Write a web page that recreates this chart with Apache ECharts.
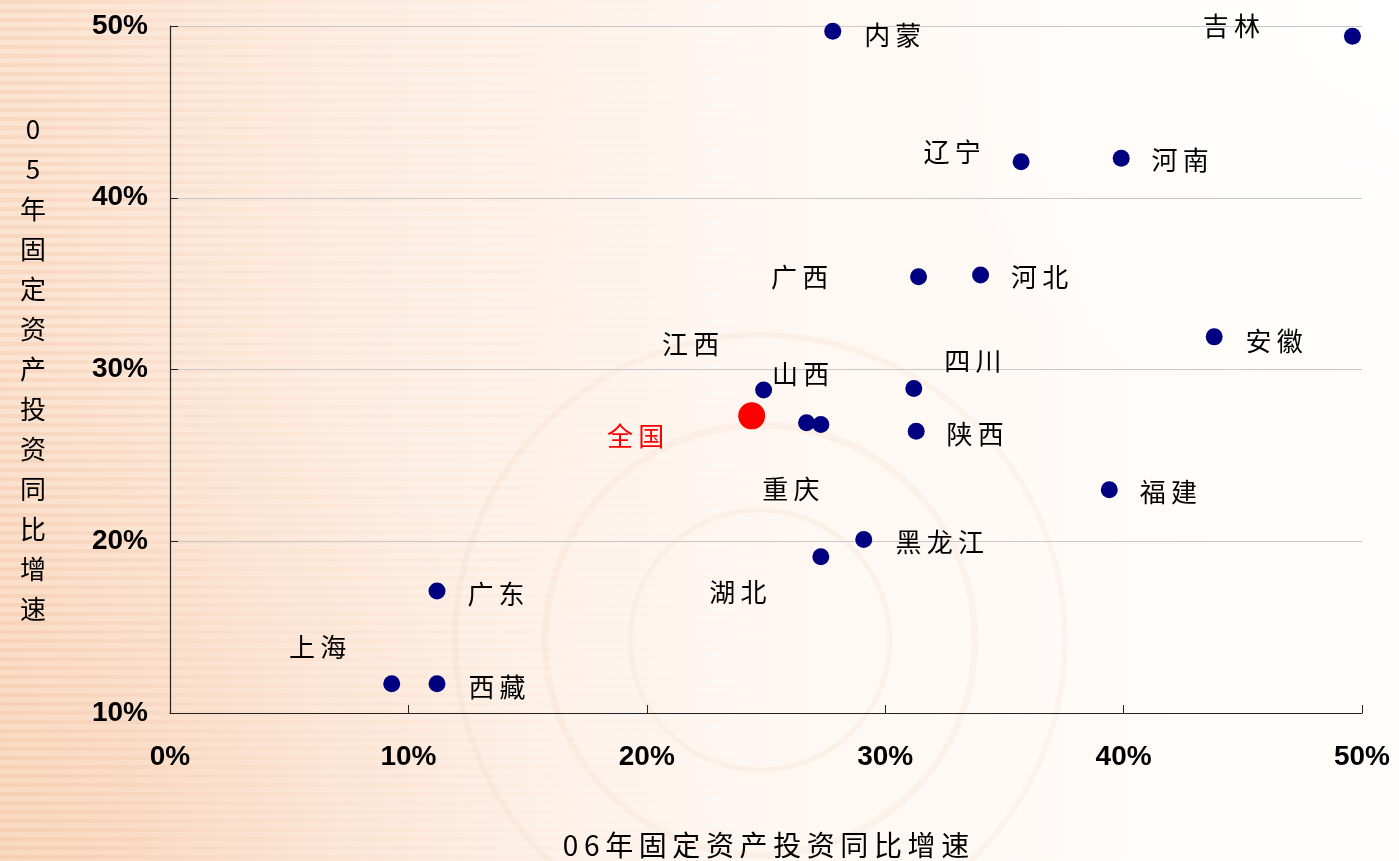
<!DOCTYPE html>
<html>
<head>
<meta charset="utf-8">
<script src="https://cdn.jsdelivr.net/npm/echarts@6/dist/echarts.min.js"></script>
<style>
  html, body { margin: 0; padding: 0; background: #fff; }
  #chart { width: 1399px; height: 861px; }
</style>
</head>
<body>
<div id="chart"></div>
<script>
// Fixed-asset investment growth by province: 2006 (x) vs 2005 (y), in percent
const provinces = ['内蒙', '吉林', '辽宁', '河南', '广西', '河北', '安徽', '山西', '四川',
                   '江西', '重庆', '陕西', '福建', '黑龙江', '湖北', '广东', '上海', '西藏'];
const growth2006 = [27.8, 49.6, 35.7, 39.9, 31.4, 34.0, 43.8, 24.9, 31.2,
                    26.7, 27.3, 31.3, 39.4, 29.1, 27.3, 11.2, 9.3, 11.2];
const growth2005 = [49.7, 49.4, 42.1, 42.3, 35.4, 35.5, 31.9, 28.8, 28.9,
                    26.9, 26.8, 26.4, 23.0, 20.1, 19.1, 17.1, 11.7, 11.7];

const nationalName = '全国';
const national2006 = 24.4;
const national2005 = 27.3;

const xTicks = [0, 10, 20, 30, 40, 50];
const yTicks = [10, 20, 30, 40, 50];

const xTitle = '06年固定资产投资同比增速';
const yTitle = '05年固定资产投资同比增速';

// label placement around each marker (pixel offsets from the marker centre)
const labelOffsets = {
  '内蒙': [60, 4], '吉林': [-121, -10], '辽宁': [-69, -10], '河南': [59, 2],
  '广西': [-119, 0], '河北': [59, 2], '安徽': [60, 4], '山西': [37, -16],
  '四川': [59, -27], '江西': [-116, -79], '重庆': [-30, 65], '陕西': [59, 3],
  '福建': [59, 2], '黑龙江': [76, 3], '湖北': [-83, 35], '广东': [59, 3],
  '上海': [-74, -37], '西藏': [60, 3], '全国': [-116, 20]
};

const spaced = s => s.split('').join('\u2009');
const CJK = '"Noto Sans CJK SC", "Noto Sans", sans-serif';

// decorative backdrop: warm wash with horizontal stripes and faint rings
const W = 1399, H = 861;
const backdrop = [{
  type: 'rect', z: -10, silent: true,
  shape: { x: 0, y: 0, width: W, height: H },
  style: {
    fill: new echarts.graphic.LinearGradient(0, 0, 1, 0, [
      { offset: 0, color: '#fbe3d1' },
      { offset: 0.25, color: '#fdeee3' },
      { offset: 0.5, color: '#fef6f0' },
      { offset: 0.8, color: '#fffbf8' },
      { offset: 1, color: '#fffdfb' }
    ])
  }
}, {
  type: 'rect', z: -9, silent: true,
  shape: { x: 0, y: 0, width: W, height: H },
  style: {
    fill: new echarts.graphic.RadialGradient(0.05, 1.0, 0.6, [
      { offset: 0, color: 'rgba(245,195,160,0.35)' },
      { offset: 1, color: 'rgba(245,195,160,0)' }
    ])
  }
}, {
  type: 'rect', z: -9, silent: true,
  shape: { x: 0, y: 0, width: W, height: H },
  style: {
    fill: new echarts.graphic.RadialGradient(1.0, 0.0, 0.6, [
      { offset: 0, color: 'rgba(255,255,255,0.95)' },
      { offset: 1, color: 'rgba(255,255,255,0)' }
    ])
  }
}];
for (let y = 0; y < H; y += 9) {
  backdrop.push({
    type: 'rect', z: -8, silent: true,
    shape: { x: 0, y: y, width: 800, height: 4 },
    style: {
      fill: new echarts.graphic.LinearGradient(0, 0, 1, 0, [
        { offset: 0, color: 'rgba(240,170,125,0.22)' },
        { offset: 0.3, color: 'rgba(240,170,125,0.08)' },
        { offset: 1, color: 'rgba(240,170,125,0)' }
      ])
    }
  });
}
[[760, 640, 215, 7], [760, 640, 305, 6], [760, 640, 130, 5]].forEach(([cx, cy, r, w]) => {
  backdrop.push({
    type: 'circle', z: -7, silent: true,
    shape: { cx: cx, cy: cy, r: r },
    style: { fill: 'none', stroke: 'rgba(225,175,135,0.09)', lineWidth: w }
  });
});

const chart = echarts.init(document.getElementById('chart'));

const provinceData = provinces.map((p, i) => ({
  name: p,
  value: [growth2006[i], growth2005[i]],
  label: { offset: labelOffsets[p] }
}));

chart.setOption({
  backgroundColor: 'transparent',
  animation: false,
  graphic: backdrop.concat([{
    type: 'text', z: 10,
    style: {
      text: yTitle.split('').join('\n'),
      x: 33, y: 369,
      align: 'center', verticalAlign: 'middle',
      lineHeight: 40,
      font: '26px ' + CJK,
      fill: '#000'
    }
  }]),
  grid: { left: 170, top: 26, right: 37, bottom: 148, outerBoundsMode: 'none', containLabel: false },
  xAxis: {
    type: 'value', min: xTicks[0], max: xTicks[xTicks.length - 1], interval: 10,
    name: spaced(xTitle), nameLocation: 'middle', nameGap: 118,
    nameTextStyle: { fontFamily: CJK, fontSize: 28, color: '#000' },
    axisLine: { show: true, lineStyle: { color: '#222', width: 1.2 } },
    axisTick: { show: true, inside: true, length: 8, lineStyle: { color: '#222' } },
    axisLabel: {
      formatter: '{value}%', margin: 30,
      fontFamily: '"Liberation Sans", Arial, sans-serif', fontWeight: 'bold',
      fontSize: 28, color: '#000'
    },
    splitLine: { show: false }
  },
  yAxis: {
    type: 'value', min: yTicks[0], max: yTicks[yTicks.length - 1], interval: 10,
    axisLine: { show: true, lineStyle: { color: '#222', width: 1.2 } },
    axisTick: { show: true, inside: true, length: 8, lineStyle: { color: '#222' } },
    axisLabel: {
      formatter: '{value}%', margin: 22,
      fontFamily: '"Liberation Sans", Arial, sans-serif', fontWeight: 'bold',
      fontSize: 28, color: '#000'
    },
    splitLine: { show: true, lineStyle: { color: '#c8c8c8', width: 1 } }
  },
  series: [{
    type: 'scatter',
    name: '各省',
    symbol: 'circle',
    symbolSize: 17,
    itemStyle: { color: '#000080', opacity: 1 },
    label: {
      show: true, position: 'inside', align: 'center', verticalAlign: 'middle',
      formatter: p => spaced(p.name),
      fontFamily: CJK, fontSize: 26, color: '#000'
    },
    data: provinceData,
    z: 3
  }, {
    type: 'scatter',
    name: nationalName,
    symbol: 'circle',
    symbolSize: 27,
    itemStyle: { color: '#ff0000', opacity: 1 },
    label: {
      show: true, position: 'inside', align: 'center', verticalAlign: 'middle',
      offset: labelOffsets[nationalName],
      formatter: p => spaced(p.name),
      fontFamily: CJK, fontSize: 26, color: '#ff0000'
    },
    data: [{ name: nationalName, value: [national2006, national2005] }],
    z: 4
  }]
});
</script>
</body>
</html>
